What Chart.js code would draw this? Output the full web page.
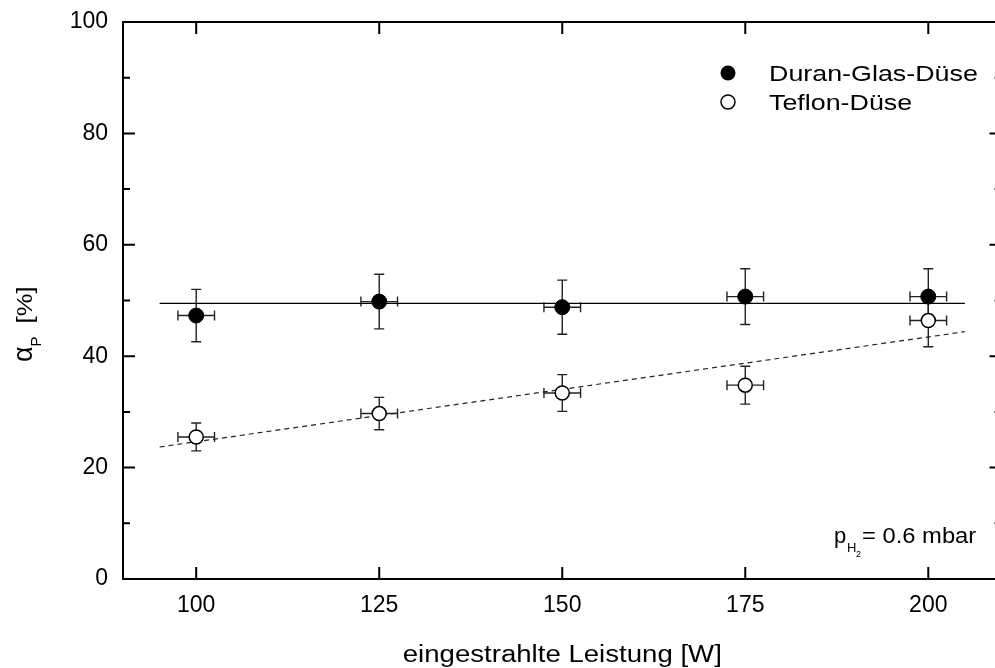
<!DOCTYPE html>
<html>
<head>
<meta charset="utf-8">
<script src="https://cdn.jsdelivr.net/npm/chart.js@4.4.0/dist/chart.umd.min.js"></script>
<style>
html, body { margin: 0; padding: 0; background: #fff; overflow: hidden; }
#wrap { width: 1010px; height: 668px; }
</style>
</head>
<body>
<div id="wrap"><canvas id="alphaChart" width="1010" height="668"></canvas></div>
<script>
var power = [100, 125, 150, 175, 200];
var powerErr = [2.5, 2.5, 2.5, 2.5, 2.5];
var duran = [47.3, 49.8, 48.8, 50.7, 50.7];
var duranErr = [4.7, 4.9, 4.85, 5.0, 5.0];
var teflon = [25.5, 29.7, 33.4, 34.8, 46.4];
var teflonErr = [2.5, 2.9, 3.3, 3.4, 4.7];
var fitX = [95, 205];
var duranFit = [49.5, 49.5];
var teflonFit = [23.7, 44.4];
var xTicks = [100, 125, 150, 175, 200];
var yTicks = [0, 20, 40, 60, 80, 100];
var yMinorTicks = [10, 30, 50, 70, 90];

var FONT = '"Liberation Sans", Arial, sans-serif';

function pts(xs, ys) {
    return xs.map(function (x, i) { return { x: x, y: ys[i] }; });
}

// text with a slight horizontal stretch, like the original export
function stretchText(ctx, text, x, y, size, sx, align) {
    ctx.save();
    ctx.font = size + 'px ' + FONT;
    var w = ctx.measureText(text).width * sx;
    if (align === 'center') x -= w / 2;
    ctx.translate(x, y);
    ctx.scale(sx, 1);
    ctx.fillText(text, 0, 0);
    ctx.restore();
    return w;
}

function errorBars(ctx, xs, ys, xe, ye, xs_, ys_) {
    var cap = 5;
    ctx.save();
    ctx.strokeStyle = '#222';
    ctx.lineWidth = 1.4;
    for (var i = 0; i < xs.length; i++) {
        var px = xs_.getPixelForValue(xs[i]);
        var py = ys_.getPixelForValue(ys[i]);
        var x0 = xs_.getPixelForValue(xs[i] - xe[i]);
        var x1 = xs_.getPixelForValue(xs[i] + xe[i]);
        var y0 = ys_.getPixelForValue(ys[i] - ye[i]);
        var y1 = ys_.getPixelForValue(ys[i] + ye[i]);
        ctx.beginPath();
        ctx.moveTo(x0, py); ctx.lineTo(x1, py);
        ctx.moveTo(x0, py - cap); ctx.lineTo(x0, py + cap);
        ctx.moveTo(x1, py - cap); ctx.lineTo(x1, py + cap);
        ctx.moveTo(px, y0); ctx.lineTo(px, y1);
        ctx.moveTo(px - cap, y0); ctx.lineTo(px + cap, y0);
        ctx.moveTo(px - cap, y1); ctx.lineTo(px + cap, y1);
        ctx.stroke();
    }
    ctx.restore();
}

var framePlugin = {
    id: 'frame',
    beforeDatasetsDraw: function (chart) {
        var ctx = chart.ctx, x = chart.scales.x, y = chart.scales.y;
        errorBars(ctx, power, duran, powerErr, duranErr, x, y);
        errorBars(ctx, power, teflon, powerErr, teflonErr, x, y);
    },
    afterDraw: function (chart) {
        var ctx = chart.ctx, a = chart.chartArea;
        var x = chart.scales.x, y = chart.scales.y;
        ctx.save();
        ctx.strokeStyle = '#000';
        ctx.lineWidth = 2;
        ctx.strokeRect(a.left, a.top, a.right - a.left, a.bottom - a.top);
        ctx.beginPath();
        xTicks.forEach(function (v) {
            var p = x.getPixelForValue(v);
            ctx.moveTo(p, a.bottom); ctx.lineTo(p, a.bottom - 12);
            ctx.moveTo(p, a.top); ctx.lineTo(p, a.top + 12);
        });
        yTicks.forEach(function (v) {
            var p = y.getPixelForValue(v);
            ctx.moveTo(a.left, p); ctx.lineTo(a.left + 12, p);
            ctx.moveTo(a.right, p); ctx.lineTo(a.right - 12, p);
        });
        yMinorTicks.forEach(function (v) {
            var p = y.getPixelForValue(v);
            ctx.moveTo(a.left, p); ctx.lineTo(a.left + 7, p);
            ctx.moveTo(a.right, p); ctx.lineTo(a.right - 7, p);
        });
        ctx.stroke();

        ctx.fillStyle = '#000';
        ctx.textBaseline = 'alphabetic';

        // x axis title
        stretchText(ctx, 'eingestrahlte Leistung [W]', (a.left + a.right) / 2, 662, 23, 1.2, 'center');

        // y axis title: alpha with subscript P, then [%]
        ctx.save();
        ctx.translate(32, 362);
        ctx.rotate(-Math.PI / 2);
        var u = 0;
        ctx.font = '27px ' + FONT;
        ctx.fillText('\u03B1', u, 0);
        u += ctx.measureText('\u03B1').width;
        ctx.font = '15px ' + FONT;
        ctx.fillText('P', u, 9);
        u += ctx.measureText('P').width + 13;
        stretchText(ctx, '[%]', u, 0, 22, 1.16);
        ctx.restore();

        // legend
        var leg = chart.data.datasets;
        ctx.lineWidth = 1.5;
        ctx.beginPath(); ctx.arc(728, 73, 7.5, 0, Math.PI * 2);
        ctx.fill();
        ctx.beginPath(); ctx.arc(728, 102, 7, 0, Math.PI * 2);
        ctx.fillStyle = '#fff'; ctx.fill(); ctx.stroke();
        ctx.fillStyle = '#000';
        stretchText(ctx, leg[0].label, 769, 81, 22, 1.22);
        stretchText(ctx, leg[1].label, 769, 110, 22, 1.22);

        // pressure note
        ctx.font = '22px ' + FONT;
        ctx.fillText('p', 834, 543);
        ctx.font = '13px ' + FONT;
        ctx.fillText('H', 847, 552);
        ctx.font = '9px ' + FONT;
        ctx.fillText('2', 856, 557);
        stretchText(ctx, '= 0.6 mbar', 862, 543, 22, 1.08);
        ctx.restore();
    }
};

var ctx = document.getElementById('alphaChart').getContext('2d');
var alphaChart = new Chart(ctx, {
    type: 'scatter',
    data: {
        datasets: [{
            label: 'Duran-Glas-Düse',
            data: pts(power, duran),
            pointRadius: 7.5,
            pointBackgroundColor: '#000',
            pointBorderColor: '#000',
            borderWidth: 1
        }, {
            label: 'Teflon-Düse',
            data: pts(power, teflon),
            pointRadius: 7,
            pointBackgroundColor: '#fff',
            pointBorderColor: '#000',
            pointBorderWidth: 1.5
        }, {
            label: 'Fit Duran',
            data: pts(fitX, duranFit),
            showLine: true,
            pointRadius: 0,
            borderColor: '#000',
            borderWidth: 1.2
        }, {
            label: 'Fit Teflon',
            data: pts(fitX, teflonFit),
            showLine: true,
            pointRadius: 0,
            borderColor: '#222',
            borderWidth: 1.2,
            borderDash: [5, 4]
        }]
    },
    options: {
        responsive: false,
        animation: false,
        layout: { padding: { top: 22, right: 7, left: 0, bottom: 0 } },
        plugins: {
            legend: { display: false },
            tooltip: { enabled: false }
        },
        scales: {
            x: {
                type: 'linear',
                min: 90,
                max: 210,
                afterBuildTicks: function (s) { s.ticks = xTicks.map(function (v) { return { value: v }; }); },
                afterFit: function (s) { s.height = 89; s.paddingLeft = 0; s.paddingRight = 0; },
                grid: { display: false, drawTicks: false },
                border: { display: false },
                ticks: { color: '#000', font: { family: FONT, size: 23 }, padding: 13, maxRotation: 0 }
            },
            y: {
                min: 0,
                max: 100,
                afterBuildTicks: function (s) { s.ticks = yTicks.map(function (v) { return { value: v }; }); },
                afterFit: function (s) { s.width = 123; s.paddingTop = 0; s.paddingBottom = 0; },
                grid: { display: false, drawTicks: false },
                border: { display: false },
                ticks: { color: '#000', font: { family: FONT, size: 23 }, padding: 15 }
            }
        }
    },
    plugins: [framePlugin]
});
</script>
</body>
</html>
